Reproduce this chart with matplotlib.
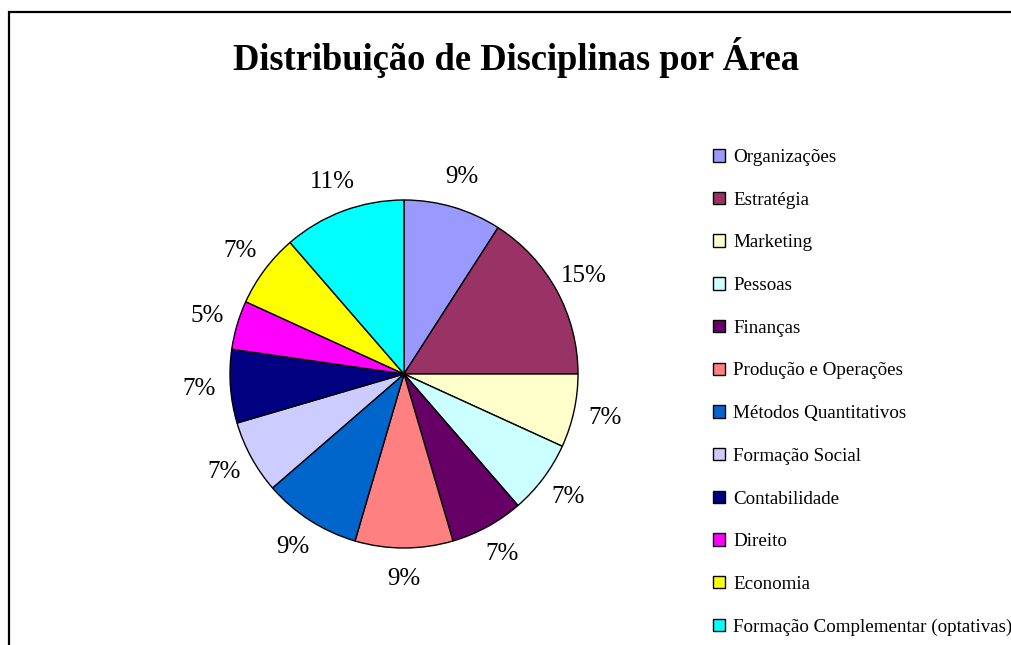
import matplotlib
matplotlib.use("Agg")
import matplotlib.pyplot as plt
from matplotlib.patches import Rectangle

plt.rcParams['font.family'] = ['Liberation Serif', 'DejaVu Serif']

# data
areas = ["Organizações", "Estratégia", "Marketing", "Pessoas", "Finanças",
         "Produção e Operações", "Métodos Quantitativos", "Formação Social",
         "Contabilidade", "Direito", "Economia",
         "Formação Complementar (optativas)"]
disciplinas = [4, 7, 3, 3, 3, 4, 4, 3, 3, 2, 3, 5]
pct_labels = ["9%", "15%", "7%", "7%", "7%", "9%", "9%", "7%", "7%", "5%", "7%", "11%"]
colors = ["#9999FF", "#993366", "#FFFFCC", "#CCFFFF", "#660066", "#FF8080",
          "#0066CC", "#CCCCFF", "#000080", "#FF00FF", "#FFFF00", "#00FFFF"]

W, H = 1011, 645
fig = plt.figure(figsize=(W / 100, H / 100), dpi=100)

# chart frame (runs off the right and bottom edges)
fig.add_artist(Rectangle((9 / W, -0.2), 1.5, 1.2 - 12 / H, transform=fig.transFigure,
                         fill=False, edgecolor="black", lw=1.6))

fig.text(516 / W, 1 - 57 / H, "Distribuição de Disciplinas por Área",
         ha="center", va="center", fontsize=26.3, fontweight="bold")

cx, cy, r = 404, 374, 174
ax = fig.add_axes([(cx - r) / W, (H - cy - r) / H, 2 * r / W, 2 * r / H])
wedges, texts = ax.pie(disciplinas, colors=colors, labels=pct_labels,
                       startangle=90, counterclock=False, labeldistance=1.18,
                       wedgeprops=dict(edgecolor="black", linewidth=1.0),
                       textprops=dict(fontsize=18))
for t in texts:
    t.set_ha("center")
    t.set_va("center")
ax.set_xlim(-1, 1)
ax.set_ylim(-1, 1)
ax.set_aspect("equal")
ax.axis("off")

fig.legend(wedges, areas, loc="upper left", bbox_to_anchor=(713 / W, 1 - 149 / H),
           frameon=False, fontsize=13.7, handlelength=0.63, handleheight=0.63,
           handletextpad=0.42, labelspacing=1.35, borderaxespad=0, borderpad=0)

fig.savefig("out.png", dpi=100)
